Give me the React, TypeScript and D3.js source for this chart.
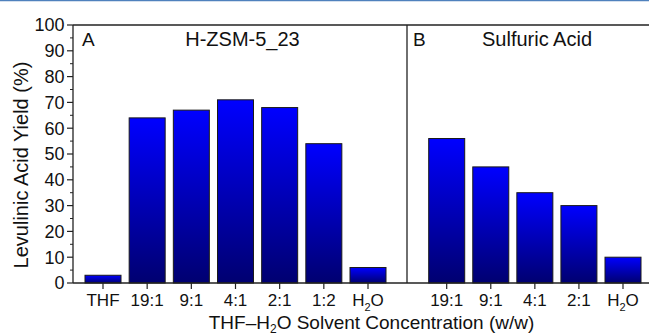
import React from "react";
import * as d3 from "d3";

const catsA = ["THF", "19:1", "9:1", "4:1", "2:1", "1:2", "H2O"];
const valsA = [3, 64, 67, 71, 68, 54, 6];
const catsB = ["19:1", "9:1", "4:1", "2:1", "H2O"];
const valsB = [56, 45, 35, 30, 10];
const yTicks = [0, 10, 20, 30, 40, 50, 60, 70, 80, 90, 100];
const yMinor = [5, 15, 25, 35, 45, 55, 65, 75, 85, 95];

const W = 649, H = 335;
const left = 73, top = 25, bottom = 283, right = 649, divider = 407;
const FONT = "Arial, 'Liberation Sans', sans-serif";

function Label({ x, y, text, size }: { x: number; y: number; text: string; size: number }) {
  if (text === "H2O") {
    return (
      <text x={x} y={y} textAnchor="middle" fontSize={size} fontFamily={FONT} fill="#111">
        H<tspan fontSize={size * 0.65} dy={5}>2</tspan><tspan dy={-5}>O</tspan>
      </text>
    );
  }
  return (
    <text x={x} y={y} textAnchor="middle" fontSize={size} fontFamily={FONT} fill="#111">{text}</text>
  );
}

export default function App() {
  const y = d3.scaleLinear().domain([0, 100]).range([bottom, top]);
  const xA = d3.scaleLinear().domain([0, catsA.length - 1]).range([103, 368]);
  const xB = d3.scaleLinear().domain([0, catsB.length - 1]).range([446.7, 623]);
  const bw = 36;

  const bars = (cats: string[], vals: number[], x: d3.ScaleLinear<number, number>, k: string) =>
    vals.map((v, i) => (
      <rect key={k + i} x={x(i) - bw / 2} y={y(v)} width={bw} height={y(0) - y(v)}
        fill="url(#barGrad)" stroke="#1a1a1a" strokeWidth={1} />
    ));

  const xTicks = (cats: string[], x: d3.ScaleLinear<number, number>, k: string) =>
    cats.map((c, i) => (
      <g key={k + i}>
        <line x1={x(i)} x2={x(i)} y1={bottom} y2={bottom + 6} stroke="#222" strokeWidth={1.2} />
        <Label x={x(i)} y={305.5} text={c} size={17} />
      </g>
    ));

  return (
    <svg width={W} height={H} style={{ position: "absolute", left: 0, top: 0, background: "#fff" }}>
      <defs>
        <linearGradient id="barGrad" x1="0" y1="0" x2="0" y2="1">
          <stop offset="0%" stopColor="#0000ff" />
          <stop offset="100%" stopColor="#000070" />
        </linearGradient>
      </defs>
      <rect x={0} y={0} width={W} height={H} fill="#fff" />
      <line x1={0} x2={W} y1={0.5} y2={0.5} stroke="#4f81bd" strokeWidth={1.5} />

      {bars(catsA, valsA, xA, "a")}
      {bars(catsB, valsB, xB, "b")}

      {/* frame */}
      <line x1={left} x2={right} y1={top} y2={top} stroke="#222" strokeWidth={1.3} />
      <line x1={left} x2={right} y1={bottom} y2={bottom} stroke="#222" strokeWidth={1.3} />
      <line x1={left} x2={left} y1={top} y2={bottom} stroke="#222" strokeWidth={1.3} />
      <line x1={divider} x2={divider} y1={top} y2={bottom} stroke="#222" strokeWidth={1.3} />

      {yTicks.map((t) => (
        <g key={"yt" + t}>
          <line x1={left - 6} x2={left} y1={y(t)} y2={y(t)} stroke="#222" strokeWidth={1.2} />
          <text x={64.5} y={y(t) + 6.3} textAnchor="end" fontSize={18} fontFamily={FONT} fill="#111">{t}</text>
        </g>
      ))}
      {yMinor.map((t) => (
        <line key={"ym" + t} x1={left - 3} x2={left} y1={y(t)} y2={y(t)} stroke="#222" strokeWidth={1} />
      ))}

      {xTicks(catsA, xA, "ta")}
      {xTicks(catsB, xB, "tb")}

      <text x={82} y={46} fontSize={19} fontFamily={FONT} fill="#111">A</text>
      <text x={242.5} y={46} textAnchor="middle" fontSize={20} fontFamily={FONT} fill="#111">H-ZSM-5_23</text>
      <text x={413} y={46} fontSize={19} fontFamily={FONT} fill="#111">B</text>
      <text x={537} y={46} textAnchor="middle" fontSize={20} fontFamily={FONT} fill="#111">Sulfuric Acid</text>

      <text x={371.5} y={328.5} textAnchor="middle" fontSize={19} fontFamily={FONT} fill="#111">
        THF–H<tspan fontSize={12} dy={4}>2</tspan><tspan dy={-4}>O Solvent Concentration (w/w)</tspan>
      </text>
      <text transform={`translate(27.5,165) rotate(-90)`} textAnchor="middle" fontSize={20} fontFamily={FONT} fill="#111">
        Levulinic Acid Yield (%)
      </text>
    </svg>
  );
}
